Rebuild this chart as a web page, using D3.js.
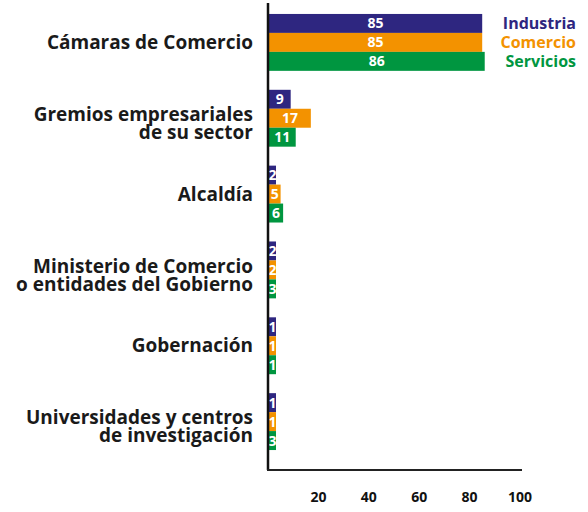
<!DOCTYPE html>
<html lang="es">
<head>
<meta charset="utf-8"/>
<title>Instituciones</title>
<style>
  body { margin: 0; background: #fff; }
  svg { display: block; }
  text { font-family: "Open Sans", sans-serif; font-weight: bold; }
</style>
</head>
<body>
<svg width="588" height="512"></svg>
<script src="https://d3js.org/d3.v7.min.js"></script>
<script>

// datos
var categorias = [
  ["Cámaras de Comercio"],
  ["Gremios empresariales", "de su sector"],
  ["Alcaldía"],
  ["Ministerio de Comercio", "o entidades del Gobierno"],
  ["Gobernación"],
  ["Universidades y centros", "de investigación"]
];
var series = ["Industria", "Comercio", "Servicios"];
var industria = [85, 9, 2, 2, 1, 1];
var comercio  = [85, 17, 5, 2, 1, 1];
var servicios = [86, 11, 6, 3, 1, 3];
var ticks = [20, 40, 60, 80, 100];
var colores = ["#2e2680", "#f39200", "#009640"];

var valores = [industria, comercio, servicios];

var svg = d3.select("svg"),
    x0 = 268,
    yBase = 470;

var x = d3.scaleLinear().domain([0, 100]).range([x0, 520]);

var y = d3.scaleBand()
    .domain(d3.range(categorias.length))
    .range([-5, 469])
    .paddingInner(0.25)
    .paddingOuter(0.25);

var ySub = d3.scaleBand()
    .domain(series)
    .range([0, y.bandwidth()]);

var grupos = svg.append("g").selectAll("g")
    .data(categorias)
    .enter().append("g")
      .attr("transform", function(d, i) { return "translate(0," + y(i) + ")"; });

grupos.each(function(cat, i) {
  var g = d3.select(this);
  series.forEach(function(s, j) {
    var v = valores[j][i];
    var w = Math.max(x(v) - x0, 8);
    g.append("rect")
        .attr("x", x0)
        .attr("y", ySub(s))
        .attr("width", w)
        .attr("height", ySub.bandwidth())
        .attr("fill", colores[j]);
    g.append("text")
        .attr("x", x0 + w / 2 + 0.5)
        .attr("y", ySub(s) + ySub.bandwidth() / 2)
        .attr("dy", "0.36em")
        .attr("text-anchor", "middle")
        .attr("fill", "#fff")
        .attr("font-size", 14)
        .text(v);
  });

  // etiqueta de categoria
  var lh = 18;
  var t = g.append("text")
      .attr("text-anchor", "end")
      .attr("font-size", 19)
      .attr("fill", "#1a1a1a");
  cat.forEach(function(linea, k) {
    t.append("tspan")
        .attr("x", 253)
        .attr("y", y.bandwidth() / 2 + (k - (cat.length - 1) / 2) * lh + (cat.length > 1 ? 5 : 0))
        .attr("dy", "0.35em")
        .text(linea);
  });
});

// leyenda junto a la primera barra
svg.append("g").selectAll("text")
    .data(series)
    .enter().append("text")
      .attr("x", 576)
      .attr("y", function(d) { return y(0) + ySub(d) + ySub.bandwidth() / 2; })
      .attr("dy", "0.36em")
      .attr("text-anchor", "end")
      .attr("font-size", 16)
      .attr("fill", function(d, i) { return colores[i]; })
      .text(function(d) { return d; });

// ejes
svg.append("line")
    .attr("x1", x0).attr("x2", x0)
    .attr("y1", 3).attr("y2", yBase)
    .attr("stroke", "#111").attr("stroke-width", 2.5);

svg.append("line")
    .attr("x1", x0 - 1).attr("x2", x(100) + 2)
    .attr("y1", yBase).attr("y2", yBase)
    .attr("stroke", "#222").attr("stroke-width", 2);

svg.append("g").selectAll("text")
    .data(ticks)
    .enter().append("text")
      .attr("x", function(d) { return x(d); })
      .attr("y", 502)
      .attr("text-anchor", "middle")
      .attr("font-size", 14)
      .attr("fill", "#111")
      .text(function(d) { return d; });

</script>
</body>
</html>
